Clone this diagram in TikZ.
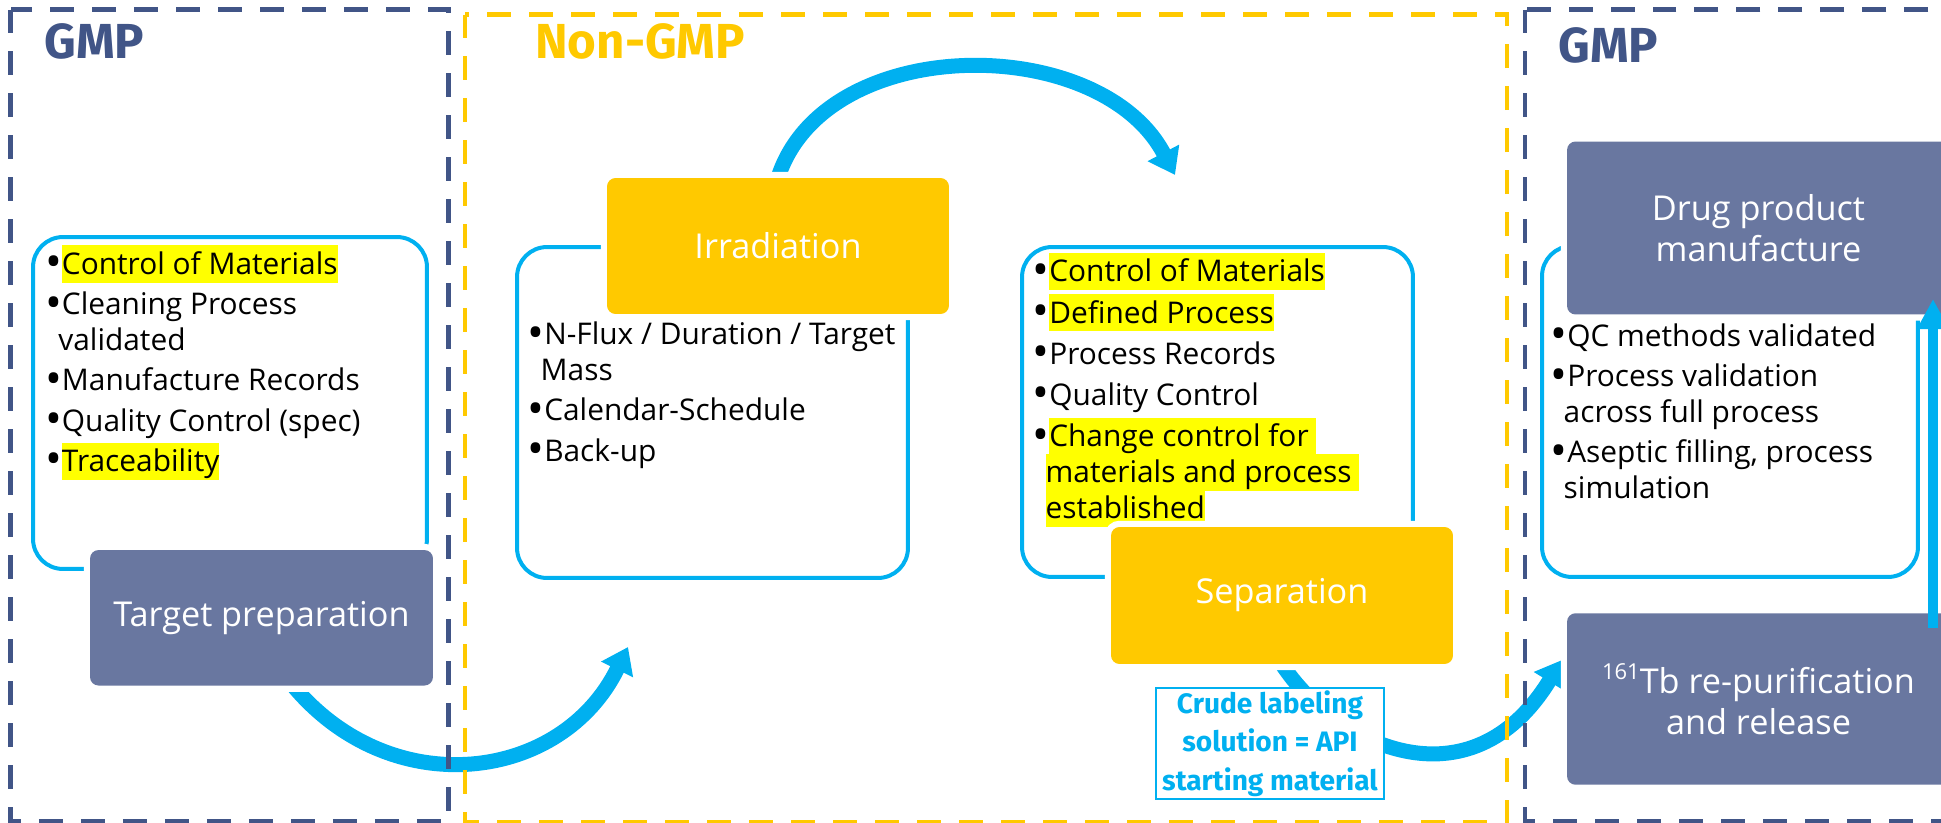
\documentclass[tikz,border=0pt]{standalone}
\usepackage{fontspec}
\setmainfont{Open Sans}
\newfontfamily\zonefont{Fira Sans}
\usetikzlibrary{arrows.meta,backgrounds}
\definecolor{gmpblue}{RGB}{65,85,135}
\definecolor{nongold}{RGB}{255,201,0}
\definecolor{slate}{RGB}{105,119,160}
\definecolor{flowcyan}{RGB}{0,176,240}
\definecolor{hlyellow}{RGB}{255,255,0}
\newcommand{\hl}[1]{\smash{\setlength{\fboxsep}{0pt}\colorbox{hlyellow}{\rule[-4.8pt]{0pt}{21.3pt}#1}}}
\newcommand{\bul}{\makebox[0.55em][l]{\raisebox{-0.11em}{\scalebox{1.5}{•}}}}
\newcommand{\ind}{\hspace{0.43em}}
\newcommand{\iso}[1]{\raisebox{0.42em}{\fontsize{12.5}{12.5}\selectfont#1}}
\tikzset{
    zone/.style={line width=0.09cm, dash pattern=on 0.48cm off 0.36cm},
    zonetitle/.style={anchor=base west, inner sep=0pt, font=\zonefont\bfseries\fontsize{28}{32}\selectfont},
    listbox/.style={draw=flowcyan, line width=0.08cm, rounded corners=0.6cm},
    notes/.style={anchor=north west, align=left, inner sep=0pt, font=\fontsize{17}{20.3}\selectfont},
    stepbox/.style={rounded corners=0.17cm, text=white, align=center, font=\fontsize{19.5}{23}\selectfont, preaction={draw=white, line width=0.25cm}},
    flow/.style={draw=flowcyan, line width=0.3cm, -{Triangle[length=0.5cm, width=0.68cm]}},
}
\begin{document}
\begin{tikzpicture}[x=0.02cm, y=-0.02cm]
    \useasboundingbox (0,0) rectangle (1941,822);
    \draw[zone, gmpblue] (10.5,9.5) rectangle (448.5,821);
    \draw[zone, nongold] (465,14.5) rectangle (1507,822);
    \draw[zone, gmpblue] (1525,9.5) rectangle (1965,821);
    \node[zonetitle, text=gmpblue] (gmpleft) at (44,58) {GMP};
    \node[zonetitle, text=nongold] (nongmp) at (535,58) {Non-GMP};
    \node[zonetitle, text=gmpblue] (gmpright) at (1558,62) {GMP};

    \node[listbox, minimum width=7.88cm, minimum height=6.64cm] (tgtlist) at (230,403) {};
    \node[listbox, minimum width=7.82cm, minimum height=6.62cm] (irrlist) at (712.5,412.5) {};
    \node[listbox, minimum width=7.82cm, minimum height=6.6cm] (seplist) at (1217.5,412) {};
    \node[listbox, minimum width=7.52cm, minimum height=6.62cm] (druglist) at (1730,411.5) {};

    \node[notes] (tgtnotes) at (45.2,249) {\strut\bul\hl{Control of Materials}\\[2.7pt]
        \bul Cleaning Process\\
        \ind validated\\[2.7pt]
        \bul Manufacture Records\\[2.7pt]
        \bul Quality Control (spec)\\[2.7pt]
        \bul\hl{Traceability}};
    \node[notes] (irrnotes) at (527.5,319.5) {\strut\bul N-Flux / Duration / Target\\
        \ind Mass\\[2.7pt]
        \bul Calendar-Schedule\\[2.7pt]
        \bul Back-up};
    \node[notes] (sepnotes) at (1032.5,256.4) {\strut\bul\hl{Control of Materials}\\[3.2pt]
        \bul\hl{Defined Process}\\[3.2pt]
        \bul Process Records\\[3.2pt]
        \bul Quality Control\\[3.2pt]
        \bul\hl{Change control for }\\
        \ind\hl{materials and process }\\
        \ind\hl{established}};
    \node[notes] (drugnotes) at (1550.5,321) {\strut\bul QC methods validated\\[2.7pt]
        \bul Process validation\\
        \ind across full process\\[2.7pt]
        \bul Aseptic filling, process\\
        \ind simulation};

    \node[stepbox, fill=slate, minimum width=6.86cm, minimum height=2.71cm] (tgt) at (261.5,617.8) {Target preparation};
    \node[stepbox, fill=nongold, minimum width=6.84cm, minimum height=2.72cm] (irr) at (778,246) {Irradiation};
    \node[stepbox, fill=nongold, minimum width=6.84cm, minimum height=2.74cm] (sep) at (1282,595.5) {Separation};
    \node[stepbox, fill=slate, minimum width=7.66cm, minimum height=3.46cm] (drug) at (1758.5,228) {Drug product\\manufacture};
    \node[stepbox, fill=slate, minimum width=7.66cm, minimum height=3.43cm] (tb) at (1758.5,699) {\iso{161}Tb re-purification\\and release};

    \node[draw=flowcyan, fill=white, line width=0.04cm, minimum width=4.58cm, minimum height=2.22cm, inner sep=0pt, align=center, text=flowcyan, font=\zonefont\bfseries\fontsize{16}{21.9}\selectfont] (crude) at (1270,743.3) {Crude labeling\\solution = API\\starting material};

    \coordinate (irrentry) at (628,647);
    \coordinate (sepentry) at (1175,175);
    \coordinate (tbentry) at (1562,660);
    \coordinate (risefoot) at (1933,628);
    \coordinate (risetop) at (1933,299);

    \begin{scope}[on background layer]
        \draw[flow] (tgt.-65) .. controls (392,804) and (562,782) .. (irrentry);
        \draw[flow] (irr.north) .. controls (825,32) and (1100,32) .. (sepentry);
        \draw[flow] (sep.south) .. controls (1335,745) and (1470,810) .. (tbentry);
    \end{scope}
    \draw[draw=flowcyan, line width=0.2cm, -{Triangle[length=0.6cm, width=0.6cm]}] (risefoot) -- (risetop);
\end{tikzpicture}
\end{document}
